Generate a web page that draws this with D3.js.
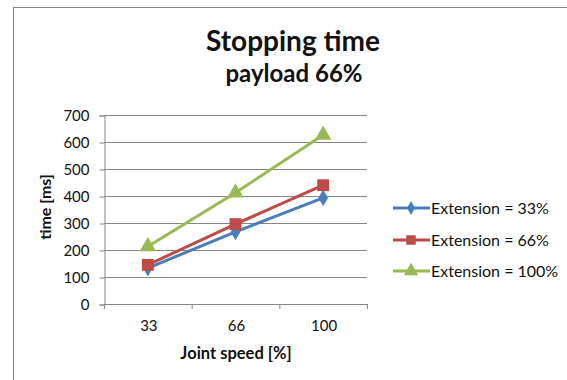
<!DOCTYPE html>
<html><head><meta charset="utf-8">
<script src="https://cdn.jsdelivr.net/npm/d3@7"></script>
<style>body{margin:0;background:#fff}svg{display:block}text{font-family:Lato,"Open Sans",sans-serif}</style>
</head><body>
<script>
const categories = ["33", "66", "100"];
const seriesNames = ["Extension = 33%", "Extension = 66%", "Extension = 100%"];
const ext33 = [133, 267, 393];
const ext66 = [145, 296, 440];
const ext100 = [213, 412, 626];
const yTicks = [0, 100, 200, 300, 400, 500, 600, 700];
const colors = ["#4A7EBB", "#BE4B48", "#98B954"];
const symbols = [d3.symbolDiamond, d3.symbolSquare, d3.symbolTriangle];
const series = [ext33, ext66, ext100];

const W = 567, H = 380;
const svg = d3.select("body").append("svg").attr("width", W).attr("height", H);
svg.append("rect").attr("x", 13.5).attr("y", 7.5).attr("width", 600).attr("height", 400)
  .attr("fill", "#fff").attr("stroke", "#868686").attr("stroke-width", 1);

const plot = {l: 104, r: 367, t: 115, b: 304};
const x = d3.scalePoint().domain(categories).range([plot.l, plot.r]).padding(0.5);
const y = d3.scaleLinear().domain([0, 700]).range([plot.b, plot.t]);

// gridlines
svg.append("g").selectAll("line").data(yTicks.slice(1)).join("line")
  .attr("x1", plot.l).attr("x2", plot.r).attr("y1", d => y(d) + 0.5).attr("y2", d => y(d) + 0.5)
  .attr("stroke", "#868686").attr("stroke-width", 1);

// y axis
const ya = svg.append("g").attr("transform", `translate(${plot.l + 0.5},0.5)`)
  .call(d3.axisLeft(y).tickValues(yTicks).tickSize(5).tickPadding(10).tickFormat(d3.format("d")));
ya.select(".domain").attr("stroke", "#868686");
ya.selectAll(".tick line").attr("stroke", "#868686");
ya.selectAll("text").attr("font-size", 15).attr("fill", "#111").style("font-family", "Lato,'Open Sans',sans-serif");

// x axis
const xa = svg.append("g").attr("transform", `translate(0.5,${plot.b + 0.5})`)
  .call(d3.axisBottom(x).tickSize(0).tickPadding(16));
xa.select(".domain").attr("d", `M${plot.l},0H${plot.r}`).attr("stroke", "#868686");
xa.selectAll("text").attr("font-size", 15).attr("fill", "#111").style("font-family", "Lato,'Open Sans',sans-serif");
// small tick marks at band boundaries
const step = x.step();
svg.append("g").selectAll("line").data(d3.range(categories.length + 1)).join("line")
  .attr("x1", i => plot.l + i * step + 0.5).attr("x2", i => plot.l + i * step + 0.5)
  .attr("y1", plot.b).attr("y2", plot.b + 5).attr("stroke", "#868686");

// lines
const line = d3.line().x((d, i) => x(categories[i])).y(d => y(d));
series.forEach((s, k) => {
  svg.append("path").datum(s).attr("d", line).attr("fill", "none")
    .attr("stroke", colors[k]).attr("stroke-width", 3).attr("stroke-linejoin", "round");
  svg.append("g").selectAll("path").data(s).join("path")
    .attr("transform", (d, i) => `translate(${x(categories[i])},${y(d)})`)
    .attr("d", d3.symbol().type(symbols[k]).size(k === 0 ? 80 : k === 1 ? 140 : 115))
    .attr("fill", colors[k]);
});

// titles
svg.append("text").attr("x", 293).attr("y", 51).attr("text-anchor", "middle")
  .attr("font-size", 28).attr("font-weight", "bold").attr("fill", "#111").text("Stopping time");
svg.append("text").attr("x", 294).attr("y", 82).attr("text-anchor", "middle")
  .attr("font-size", 24).attr("font-weight", "bold").attr("fill", "#111").text("payload 66%");
svg.append("text").attr("transform", "translate(51,207) rotate(-90)").attr("text-anchor", "middle")
  .attr("font-size", 16).attr("font-weight", "bold").attr("fill", "#111").text("time [ms]");
svg.append("text").attr("x", 236).attr("y", 359).attr("text-anchor", "middle")
  .attr("font-size", 16.5).attr("font-weight", "bold").attr("fill", "#111").text("Joint speed [%]");

// legend
const legY = [208, 240, 271];
const lg = svg.append("g").selectAll("g").data(seriesNames).join("g")
  .attr("transform", (d, i) => `translate(0,${legY[i]})`);
lg.append("line").attr("x1", 393).attr("x2", 430).attr("stroke", (d, i) => colors[i]).attr("stroke-width", 3);
lg.append("path").attr("transform", "translate(411,0)")
  .attr("d", (d, i) => d3.symbol().type(symbols[i]).size(i === 0 ? 55 : 90)())
  .attr("fill", (d, i) => colors[i]);
lg.append("text").attr("x", 431).attr("y", 6).attr("font-size", 16).attr("fill", "#111").text(d => d);
</script>
</body></html>
